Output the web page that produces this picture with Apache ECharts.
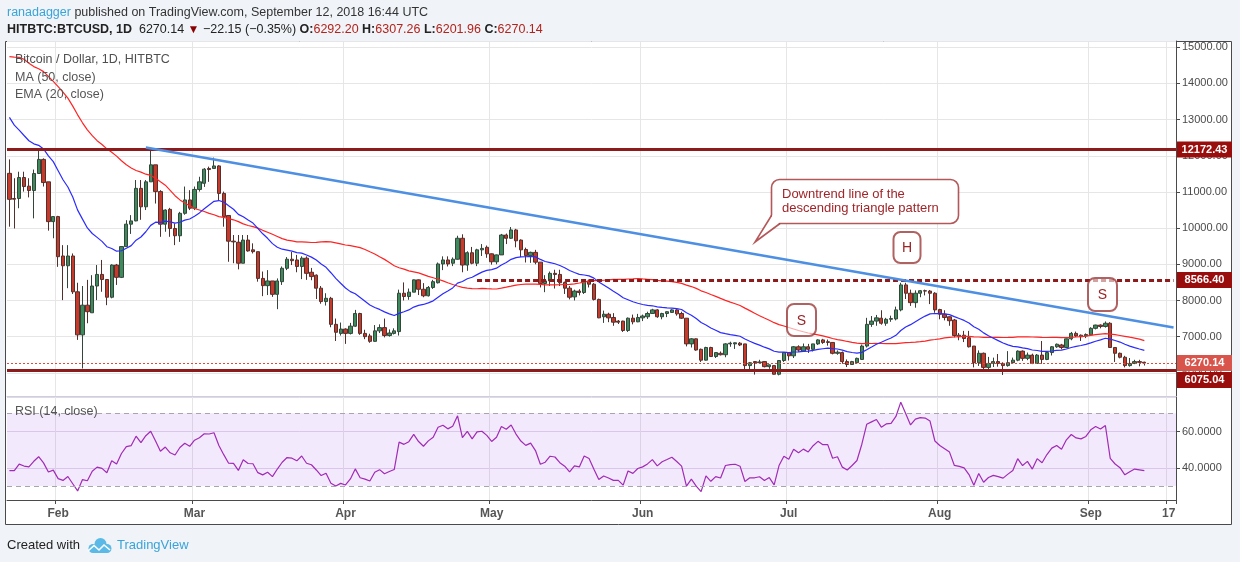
<!DOCTYPE html>
<html>
<head>
<meta charset="utf-8">
<title>HITBTC:BTCUSD 1D</title>
<script src="https://cdn.jsdelivr.net/npm/echarts@6.0.0/dist/echarts.min.js"></script>
<style>
html, body { margin: 0; padding: 0; background: #f0f3f7; }
#chart { width: 1240px; height: 562px; }
</style>
</head>
<body>
<div id="chart"></div>
<script>
/**
 * 数据
 * */
// 第一根K线的日期, 类目数(含右侧留白到 9/18)
var startDay = '2018-01-22';
var dayCount = 240;

// 时间轴刻度
var monthTicks = [
	['2018-02-01', 'Feb'], ['2018-03-01', 'Mar'], ['2018-04-01', 'Apr'], ['2018-05-01', 'May'],
	['2018-06-01', 'Jun'], ['2018-07-01', 'Jul'], ['2018-08-01', 'Aug'], ['2018-09-01', 'Sep'],
	['2018-09-17', '17']
];

// 日K [open, close, low, high]
var candles = [
	// Jan 22 - 31
	[11515, 10796, 10040, 11900], [10820, 10800, 9990, 11380], [10820, 11400, 10550, 11560], [11400, 11150, 11010, 11560],
	[11160, 11040, 10850, 11380], [11040, 11510, 10270, 11620], [11510, 11900, 11510, 12180], [11900, 11260, 11150, 11930],
	[11280, 10180, 9930, 11280], [10180, 10320, 9720, 10330],
	// Feb
	[10320, 9210, 8930, 10340], [9230, 8960, 8010, 9530], [8960, 9230, 8340, 9530], [9230, 8240, 8180, 9300],
	[8240, 7050, 6910, 8490], [7050, 7870, 6120, 8400], [7870, 7690, 7370, 8570], [7660, 8400, 7660, 8700],
	[8400, 8720, 8010, 8980], [8720, 8580, 8240, 9120], [8580, 8090, 7870, 8580], [8090, 8980, 8060, 9000],
	[8980, 8640, 8430, 9010], [8640, 9490, 8620, 9500], [9490, 10110, 9480, 10220], [10110, 10200, 9840, 10360],
	[10200, 11100, 10190, 11330], [11100, 10590, 10230, 11330], [10590, 11280, 10500, 11330], [11280, 11750, 11280, 12180],
	[11750, 11010, 10680, 11750], [11010, 10110, 9760, 11050], [10110, 10500, 9900, 10520], [10520, 9990, 9760, 10560],
	[9990, 9790, 9530, 10130], [9790, 10410, 9620, 10450], [10410, 10780, 10370, 11150], [10780, 10550, 10500, 11050],
	// Mar
	[10550, 11070, 10500, 11150], [11070, 11280, 11010, 11420], [11240, 11630, 11140, 11660], [11650, 11620, 11280, 11700],
	[11650, 11720, 11650, 11950], [11720, 10960, 10760, 11740], [10960, 10320, 10040, 11010], [10350, 9640, 9070, 10350],
	[9640, 9620, 9030, 9810], [9610, 9030, 8860, 9810], [9030, 9670, 9030, 9810], [9670, 9370, 9350, 9810],
	[9400, 9350, 9300, 9580], [9350, 8610, 8520, 9350], [8610, 8410, 8120, 8800], [8410, 8540, 8150, 8840],
	[8540, 8170, 8100, 8540], [8170, 8540, 7760, 8610], [8520, 8890, 8430, 8940], [8890, 9140, 8840, 9200],
	[9140, 9100, 8980, 9340], [9120, 8940, 8780, 9260], [8940, 9170, 8590, 9220], [9170, 8750, 8570, 9220],
	[8780, 8660, 8560, 8900], [8700, 8340, 8040, 8720], [8340, 7970, 7910, 8400], [7970, 8060, 7860, 8200],
	[8060, 7340, 7260, 8100], [7340, 7120, 6880, 7500], [7090, 7210, 7030, 7390],
	// Apr
	[7210, 7090, 6800, 7230], [7090, 7290, 7060, 7380], [7290, 7640, 7270, 7740], [7640, 7090, 7050, 7660],
	[7090, 7000, 6930, 7190], [7020, 6870, 6830, 7080], [6870, 7160, 6860, 7320], [7160, 7250, 7100, 7340],
	[7250, 7030, 6980, 7500], [7030, 7100, 7000, 7200], [7090, 7160, 7060, 7230], [7140, 8200, 7030, 8300],
	[8200, 8110, 8000, 8500], [8110, 8230, 8020, 8330], [8230, 8570, 8230, 8580], [8570, 8310, 8150, 8580],
	[8310, 8130, 8090, 8480], [8130, 8360, 8110, 8400], [8360, 8520, 8320, 8570], [8490, 9010, 8470, 9050],
	[9010, 9120, 8840, 9220], [9120, 9010, 8940, 9220], [9030, 9140, 8950, 9190], [9140, 9720, 9130, 9790],
	[9720, 8980, 8780, 9830], [8980, 9320, 8820, 9360], [9320, 9030, 9000, 9480], [9030, 9400, 8950, 9430],
	[9400, 9440, 9230, 9560], [9470, 9290, 9180, 9520],
	// May
	[9290, 9070, 8990, 9300], [9070, 9260, 9000, 9270], [9260, 9810, 9260, 9840], [9810, 9720, 9560, 9850],
	[9720, 9950, 9700, 10030], [9950, 9650, 9470, 9980], [9670, 9400, 9200, 9690], [9410, 9240, 9050, 9460],
	[9240, 9330, 9040, 9350], [9330, 9060, 9000, 9400], [9060, 8470, 8360, 9060], [8470, 8540, 8230, 8700],
	[8540, 8750, 8400, 8800], [8750, 8720, 8330, 8850], [8720, 8490, 8400, 8850], [8500, 8340, 8180, 8520],
	[8340, 8090, 8030, 8400], [8100, 8260, 8000, 8300], [8260, 8220, 8140, 8310], [8220, 8540, 8180, 8560],
	[8540, 8450, 8360, 8580], [8450, 8030, 8000, 8480], [8030, 7520, 7510, 8050], [7550, 7620, 7380, 7720],
	[7620, 7520, 7400, 7660], [7530, 7400, 7300, 7650], [7430, 7400, 7350, 7460], [7430, 7170, 7130, 7440],
	[7170, 7510, 7130, 7530], [7510, 7410, 7340, 7610], [7410, 7530, 7400, 7630],
	// Jun
	[7520, 7570, 7430, 7610], [7550, 7640, 7490, 7690], [7640, 7740, 7640, 7770], [7740, 7550, 7520, 7760],
	[7550, 7640, 7480, 7660], [7640, 7690, 7540, 7700], [7670, 7740, 7660, 7760], [7740, 7630, 7580, 7760],
	[7640, 7510, 7490, 7690], [7510, 6800, 6730, 7510], [6800, 6940, 6700, 6960], [6940, 6630, 6610, 6950],
	[6650, 6350, 6300, 6670], [6350, 6700, 6340, 6720], [6700, 6450, 6440, 6720], [6450, 6560, 6410, 6560],
	[6540, 6500, 6480, 6590], [6500, 6800, 6430, 6820], [6800, 6820, 6720, 6860], [6800, 6830, 6660, 6840],
	[6820, 6770, 6740, 6850], [6800, 6200, 6100, 6800], [6200, 6280, 6100, 6300], [6310, 6280, 5950, 6320],
	[6280, 6300, 6260, 6360], [6310, 6170, 6150, 6320], [6170, 6220, 6110, 6230], [6200, 5960, 5950, 6210],
	[5960, 6340, 5930, 6340], [6340, 6560, 6300, 6570],
	// Jul
	[6560, 6470, 6340, 6570], [6470, 6720, 6410, 6740], [6720, 6630, 6580, 6760], [6600, 6720, 6590, 6810],
	[6720, 6650, 6550, 6800], [6650, 6800, 6590, 6800], [6800, 6910, 6770, 6930], [6910, 6840, 6800, 6940],
	[6860, 6840, 6750, 6920], [6840, 6540, 6510, 6850], [6540, 6570, 6500, 6620], [6560, 6310, 6250, 6590],
	[6310, 6230, 6160, 6370], [6230, 6310, 6220, 6330], [6280, 6400, 6270, 6420], [6370, 6740, 6360, 6780],
	[6740, 7340, 6700, 7520], [7340, 7430, 7270, 7570], [7430, 7520, 7300, 7600], [7510, 7370, 7330, 7730],
	[7370, 7480, 7300, 7520], [7480, 7500, 7410, 7580], [7490, 7740, 7450, 7830], [7740, 8430, 7700, 8490],
	[8430, 8200, 8040, 8490], [8200, 7940, 7850, 8300], [7940, 8200, 7800, 8280], [8200, 8270, 8090, 8290],
	[8270, 8260, 8140, 8300], [8260, 8200, 7900, 8290], [8200, 7740, 7660, 8230],
	// Aug
	[7750, 7620, 7480, 7770], [7620, 7530, 7450, 7730], [7550, 7440, 7300, 7560], [7460, 7030, 6980, 7490],
	[7040, 7000, 6900, 7100], [7040, 6950, 6850, 7160], [6970, 6720, 6700, 7160], [6740, 6280, 6150, 6740],
	[6280, 6540, 6190, 6620], [6540, 6150, 6080, 6560], [6150, 6260, 6040, 6440], [6260, 6310, 6160, 6420],
	[6310, 6260, 6170, 6520], [6260, 6200, 5940, 6290], [6200, 6280, 6170, 6600], [6280, 6350, 6260, 6420],
	[6350, 6600, 6320, 6620], [6600, 6400, 6330, 6620], [6400, 6490, 6350, 6560], [6490, 6260, 6240, 6530],
	[6260, 6490, 6250, 6520], [6490, 6370, 6250, 6880], [6370, 6560, 6350, 6580], [6560, 6720, 6480, 6740],
	[6720, 6790, 6690, 6810], [6770, 6700, 6650, 6800], [6700, 6940, 6680, 6950], [6940, 7090, 6900, 7130],
	[7090, 7020, 6990, 7140], [7040, 7000, 6880, 7060], [7020, 7060, 6960, 7090],
	// Sep 1 - 12
	[7050, 7230, 7020, 7260], [7230, 7320, 7200, 7330], [7320, 7280, 7230, 7340], [7280, 7370, 7250, 7420],
	[7370, 6700, 6690, 7400], [6700, 6540, 6300, 6700], [6540, 6430, 6400, 6560], [6430, 6200, 6150, 6470],
	[6200, 6260, 6170, 6410], [6260, 6310, 6240, 6360], [6310, 6290, 6180, 6360], [6292.20, 6270.14, 6201.96, 6307.26]
];

// 1/22 之前的收盘价 (12/3 - 1/21), 只给均线和RSI预热用
var priorCloses = [
	11250, 11600, 11700, 13700, 16800, 16000, 14900, 15200, 16800, 17200,
	16400, 16500, 17600, 19300, 19100, 18900, 17400, 16500, 15600, 13800,
	14200, 13800, 13900, 15900, 15700, 14500, 14600, 12900, 14100, 13500,
	14800, 15100, 15200, 17100, 17200, 16200, 15000, 14400, 14900, 13300,
	13800, 14200, 13600, 13600, 11400, 11200, 11300, 11600, 12800, 11600
];

// 水平价位
var levelHigh = 12172.43;
var levelMid = 8566.40;
var levelMidFrom = '2018-04-28';
var levelLow = 6075.04;
var lastPrice = 6270.14;

// 下降趋势线两端 [日期, 价格]
var trendLine = [['2018-02-19', 12230], ['2018-09-18', 7250]];

// 坐标范围
var priceRange = [5359, 15174];
var rsiRange = [22.3, 79];
var rsiBand = [30, 70];

/**
 * 工具方法
 * */
var methods = {
	//日期类目
	days() {
		let list = [];
		let t0 = new Date(startDay + 'T00:00:00Z').getTime();
		for (let i = 0; i < dayCount; i++) {
			list.push(new Date(t0 + i * 86400000).toISOString().slice(0, 10));
		}
		return list;
	},
	//简单均线
	sma(list, n) {
		let out = [];
		let sum = 0;
		for (let i = 0; i < list.length; i++) {
			sum += list[i];
			if (i >= n) sum -= list[i - n];
			out.push(i >= n - 1 ? sum / n : '-');
		}
		return out;
	},
	//指数均线
	ema(list, n) {
		let out = [];
		let k = 2 / (n + 1);
		let prev = null;
		for (let i = 0; i < list.length; i++) {
			if (i < n - 1) {
				out.push('-');
				continue;
			}
			if (prev === null) {
				let s = 0;
				for (let j = i - n + 1; j <= i; j++) s += list[j];
				prev = s / n;
			} else {
				prev = prev + k * (list[i] - prev);
			}
			out.push(prev);
		}
		return out;
	},
	//RSI (Wilder)
	rsi(list, n) {
		let out = ['-'];
		let ag = 0, al = 0;
		for (let i = 1; i < list.length; i++) {
			let d = list[i] - list[i - 1];
			let g = d > 0 ? d : 0;
			let l = d < 0 ? -d : 0;
			if (i <= n) {
				ag += g / n;
				al += l / n;
				out.push(i === n ? 100 - 100 / (1 + ag / al) : '-');
			} else {
				ag = (ag * (n - 1) + g) / n;
				al = (al * (n - 1) + l) / n;
				out.push(al === 0 ? 100 : 100 - 100 / (1 + ag / al));
			}
		}
		return out;
	}
};

var dates = methods.days();
var tickMap = {};
monthTicks.forEach(function(t) { tickMap[t[0]] = t[1]; });
var isTick = function(i, v) { return tickMap[v] !== undefined; };

var allCloses = priorCloses.concat(candles.map(function(c) { return c[1]; }));
var skip = priorCloses.length;
var ma50 = methods.sma(allCloses, 50).slice(skip);
var ema20 = methods.ema(allCloses, 20).slice(skip);
var rsi14 = methods.rsi(allCloses, 14).slice(skip);

var font = "'Liberation Sans', Arial, sans-serif";

/**
 * option
 * */
var option = {
	animation: false,
	backgroundColor: '#f0f3f7',
	textStyle: { fontFamily: font },
	grid: [
		{ left: 7, right: 64, top: 41, height: 355 },
		{ left: 7, right: 64, top: 397, height: 103 }
	],
	xAxis: [{
		type: 'category', gridIndex: 0, data: dates, boundaryGap: true,
		axisLine: { show: true, lineStyle: { color: '#cdd0d4' } },
		axisTick: { show: false },
		axisLabel: { show: false },
		splitLine: { show: true, interval: isTick, lineStyle: { color: '#e6e6e6' } }
	}, {
		type: 'category', gridIndex: 1, data: dates, boundaryGap: true,
		axisLine: { show: true, lineStyle: { color: '#4a4a4a' } },
		axisTick: { show: true, interval: isTick, length: 4, lineStyle: { color: '#4a4a4a' } },
		axisLabel: {
			show: true, interval: isTick, margin: 8, color: '#555', fontSize: 12, fontWeight: 'bold',
			formatter: function(v) { return tickMap[v] || ''; }
		},
		splitLine: { show: true, interval: isTick, lineStyle: { color: '#e6e6e6' } }
	}],
	yAxis: [{
		type: 'value', gridIndex: 0, position: 'right', scale: true,
		min: priceRange[0], max: priceRange[1], minInterval: 1000, maxInterval: 1000,
		axisLine: { show: true, lineStyle: { color: '#4a4a4a' } },
		axisTick: { show: true, length: 4, lineStyle: { color: '#4a4a4a' } },
		axisLabel: {
			color: '#4a4a4a', fontSize: 11, margin: 6, showMinLabel: false, showMaxLabel: false,
			formatter: function(v) { return v.toFixed(2); }
		},
		splitLine: { lineStyle: { color: '#e6e6e6' } }
	}, {
		type: 'value', gridIndex: 1, position: 'right', scale: true,
		min: rsiRange[0], max: rsiRange[1], minInterval: 20, maxInterval: 20,
		axisLine: { show: true, lineStyle: { color: '#4a4a4a' } },
		axisTick: { show: true, length: 4, lineStyle: { color: '#4a4a4a' } },
		axisLabel: {
			color: '#4a4a4a', fontSize: 11, margin: 6, showMinLabel: false, showMaxLabel: false,
			formatter: function(v) { return v.toFixed(4); }
		},
		splitLine: { lineStyle: { color: '#e3d7ee' } }
	}],
	series: [{
		name: 'BTCUSD',
		type: 'candlestick',
		xAxisIndex: 0, yAxisIndex: 0,
		barWidth: 3.8,
		data: candles,
		itemStyle: {
			color: '#3d8b5c', color0: '#c63a2c',
			borderColor: '#34463a', borderColor0: '#53302c', borderWidth: 1
		},
		markLine: {
			silent: true, symbol: ['none', 'none'], precision: 2,
			label: { show: false },
			data: [
				{ yAxis: levelHigh, lineStyle: { color: '#8e1b1b', width: 3, type: 'solid' } },
				{ yAxis: levelLow, lineStyle: { color: '#8e1b1b', width: 3, type: 'solid' } },
				{ yAxis: lastPrice, lineStyle: { color: '#e0473a', width: 1, type: [2, 2] } },
				[
					{ coord: [levelMidFrom, levelMid], lineStyle: { color: '#8e1b1b', width: 3, type: [5, 3] } },
					{ coord: [dates[dates.length - 1], levelMid] }
				],
				[
					{ coord: trendLine[0], lineStyle: { color: '#4d8fe3', width: 2.5, type: 'solid' } },
					{ coord: trendLine[1] }
				]
			]
		}
	}, {
		name: 'MA (50, close)',
		type: 'line', xAxisIndex: 0, yAxisIndex: 0,
		data: ma50, showSymbol: false, z: 3,
		lineStyle: { color: '#ff2424', width: 1.2 }
	}, {
		name: 'EMA (20, close)',
		type: 'line', xAxisIndex: 0, yAxisIndex: 0,
		data: ema20, showSymbol: false, z: 3,
		lineStyle: { color: '#2b2bff', width: 1.2 }
	}, {
		name: 'RSI (14, close)',
		type: 'line', xAxisIndex: 1, yAxisIndex: 1,
		data: rsi14, showSymbol: false,
		lineStyle: { color: '#a12ab6', width: 1.2 },
		markArea: {
			silent: true,
			itemStyle: { color: 'rgba(149, 55, 230, 0.11)' },
			data: [[{ yAxis: rsiBand[0] }, { yAxis: rsiBand[1] }]]
		},
		markLine: {
			silent: true, symbol: ['none', 'none'],
			label: { show: false },
			lineStyle: { color: '#a8a6ad', width: 1, type: [5, 4] },
			data: [{ yAxis: rsiBand[0] }, { yAxis: rsiBand[1] }]
		}
	}]
};

/**
 * 页面方法
 * */
var page = {
	chart: echarts.init(document.getElementById('chart')),
	init() {
		page.chart.setOption(option);
		page.chart.setOption({ graphic: { elements: page.graphics() } });
	},
	//右侧价格标签, 重叠时往下推
	tags() {
		let list = [
			{ v: levelHigh, bg: '#990d0d' },
			{ v: levelMid, bg: '#990d0d' },
			{ v: lastPrice, bg: '#d9544a' },
			{ v: levelLow, bg: '#990d0d' }
		];
		list.forEach(function(t) { t.y = page.chart.convertToPixel({ yAxisIndex: 0 }, t.v); });
		list.sort(function(a, b) { return a.y - b.y; });
		for (let i = 1; i < list.length; i++) {
			if (list[i].y < list[i - 1].y + 17) list[i].y = list[i - 1].y + 17;
		}
		let els = [];
		list.forEach(function(t) {
			els.push({ type: 'rect', z: 20, shape: { x: 1177, y: t.y - 8, width: 55, height: 16 }, style: { fill: t.bg } });
			els.push({
				type: 'text', z: 21,
				style: { x: 1204.5, y: t.y, text: t.v.toFixed(2), fill: '#fff', font: 'bold 11px ' + font, align: 'center', verticalAlign: 'middle' }
			});
		});
		return els;
	},
	//标注气泡
	bubble(x, y, w, h, txt) {
		return [{
			type: 'rect', z: 10,
			shape: { x: x, y: y, width: w, height: h, r: 7 },
			style: { fill: 'rgba(255,255,255,0.6)', stroke: 'rgba(150,45,45,0.75)', lineWidth: 2 }
		}, {
			type: 'text', z: 11,
			style: { x: x + w / 2, y: y + h / 2 + 1, text: txt, fill: '#9a2426', font: '14px ' + font, align: 'center', verticalAlign: 'middle' }
		}];
	},
	graphics() {
		let txt = function(x, y, text, size, color, extra) {
			let s = { x: x, y: y, text: text, fill: color, font: size + 'px ' + font, verticalAlign: 'middle' };
			if (extra) Object.assign(s, extra);
			return { type: 'text', z: 12, style: s };
		};
		let els = [
			//外框
			{ type: 'rect', z: -10, shape: { x: 5.5, y: 41.5, width: 1226, height: 483 }, style: { fill: '#fff', stroke: '#4a4a4a', lineWidth: 1 } },
			//标题
			txt(7, 13, '{u|ranadagger}{t| published on TradingView.com, September 12, 2018 16:44 UTC}', 12.5, '#333', {
				rich: {
					u: { fill: '#3aa4d8', color: '#3aa4d8', fontSize: 12.5, fontFamily: font },
					t: { fill: '#333', color: '#333', fontSize: 12.5, fontFamily: font }
				}
			}),
			txt(7, 30, '{b|HITBTC:BTCUSD, 1D}{n|  6270.14 }{a|▼}{n| \u221222.15 (\u22120.35%) }{b|O:}{r|6292.20}{b| H:}{r|6307.26}{b| L:}{r|6201.96}{b| C:}{r|6270.14}', 12.5, '#222', {
				rich: {
					b: { fill: '#222', color: '#222', fontSize: 12.5, fontWeight: 'bold', fontFamily: font },
					n: { fill: '#222', color: '#222', fontSize: 12.5, fontFamily: font },
					a: { fill: '#8b0000', color: '#8b0000', fontSize: 12, fontFamily: font },
					r: { fill: '#b3241c', color: '#b3241c', fontSize: 12.5, fontFamily: font }
				}
			}),
			//图例
			txt(15, 60, 'Bitcoin / Dollar, 1D, HITBTC', 12.5, '#4f4f4f'),
			txt(15, 78, 'MA (50, close)', 12.5, '#555'),
			txt(15, 95, 'EMA (20, close)', 12.5, '#555'),
			txt(15, 412, 'RSI (14, close)', 12.5, '#555'),
			//说明框
			{
				type: 'rect', z: 10,
				shape: { x: 771.5, y: 179.5, width: 187, height: 44, r: 8 },
				style: { fill: '#fff', stroke: 'rgba(160,45,48,0.8)', lineWidth: 1.6 }
			},
			{
				type: 'polygon', z: 10.5,
				shape: { points: [[772.3, 215], [755, 242], [780, 222.7]] },
				style: { fill: '#fff' }
			},
			{
				type: 'polyline', z: 10.6,
				shape: { points: [[771.5, 215.5], [755, 242], [780, 223.5]] },
				style: { stroke: 'rgba(160,45,48,0.8)', lineWidth: 1.6, fill: null }
			},
			txt(782, 194, 'Downtrend line of the', 13, '#a0262a'),
			txt(782, 208, 'descending triangle pattern', 13, '#a0262a'),
			//底部
			txt(7, 545, 'Created with', 13, '#222'),
			{ type: 'circle', z: 12, shape: { cx: 93, cy: 548.5, r: 4.5 }, style: { fill: '#5ab9e6' } },
			{ type: 'circle', z: 12, shape: { cx: 100.5, cy: 544, r: 6 }, style: { fill: '#5ab9e6' } },
			{ type: 'circle', z: 12, shape: { cx: 107, cy: 548.5, r: 4.5 }, style: { fill: '#5ab9e6' } },
			{ type: 'rect', z: 12, shape: { x: 93, y: 546, width: 14, height: 7 }, style: { fill: '#5ab9e6' } },
			{
				type: 'polyline', z: 13,
				shape: { points: [[88, 551], [94, 545.5], [99, 550], [104, 545], [110, 550]] },
				style: { stroke: '#fff', lineWidth: 1.6, fill: null }
			},
			txt(117, 545, 'TradingView', 13, '#3aa4d8')
		];
		els = els.concat(page.bubble(893.5, 232, 27, 31, 'H'));
		els = els.concat(page.bubble(787, 304, 29, 32, 'S'));
		els = els.concat(page.bubble(1088, 278, 29, 33, 'S'));
		return els.concat(page.tags());
	}
};

page.init();
</script>
</body>
</html>
